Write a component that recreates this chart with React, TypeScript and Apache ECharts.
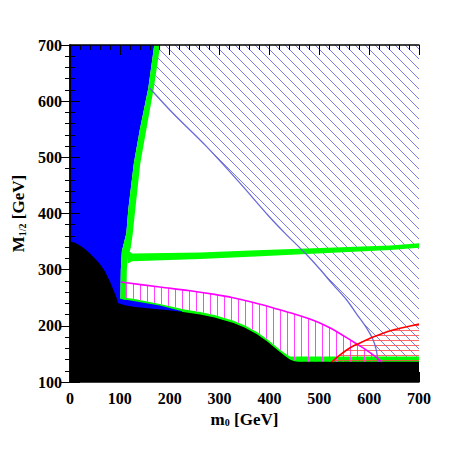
import React, { useEffect, useRef } from 'react';
import * as echarts from 'echarts';

type P = [number, number];

// ---- Region boundaries (m0 [GeV], M1/2 [GeV]) ----
const blackTop: P[] = [
  [0, 350], [10, 348], [20, 343], [30, 337], [40, 329], [50, 320], [60, 310], [70, 297],
  [80, 279], [88, 262], [94, 248], [97, 240], [110, 236.5], [127, 234], [160, 231], [194, 228],
  [230, 224], [261, 220], [290, 215], [328, 205], [350, 197], [375, 185], [395, 172.5],
  [415, 158], [430, 147], [441, 140], [450, 137], [458, 136], [700, 136],
];

const greenLeftEdge: P[] = [
  [169, 700], [157, 623], [140, 549], [128, 489], [117, 408], [113, 365], [104, 333],
  [102, 300], [101, 248],
];
const greenRightEdge: P[] = [
  [113, 246], [114, 300], [116, 320], [122, 340], [126, 365], [131, 408], [141, 489],
  [153, 549], [168, 623], [181, 700],
];
const blueStripTop: P[] = [[127, 244], [180, 236], [225, 226]];

const greenBandLower: P[] = [[116, 311], [125, 315], [261, 319], [361, 323], [642, 335], [700, 339]];
const greenBandUpper: P[] = [[700, 347], [642, 343], [361, 334], [261, 330.5], [125, 329], [116, 334]];

const greenStripTop: P[] = [
  [101, 251], [127, 248], [180, 239], [230, 229], [261, 224.5], [290, 219.5], [328, 209],
  [350, 201], [375, 189], [395, 176.5], [415, 162], [430, 151.5], [441, 145.5], [455, 145.5], [700, 145.5],
];

const magentaUpper: P[] = [
  [102, 278], [180, 269], [241, 262.5], [290, 256], [327, 250], [370, 241], [415, 230],
  [450, 221], [481, 212], [500, 205.5], [522, 196], [542, 186], [562, 175], [582, 164],
  [596, 156], [610, 147], [626, 136],
];

const redUpper: P[] = [
  [525, 136], [540, 147], [555, 157], [570, 165], [588, 172], [608, 180], [628, 187],
  [648, 192.5], [669, 197], [700, 203],
];

const blueLine: P[] = [
  [160, 623], [207, 578], [274, 519], [341, 454], [398, 396], [430, 366], [471, 330],
  [500, 302], [528, 273], [555, 246], [575, 221], [595, 196], [607, 177], [614, 158], [618, 136],
];

// ---- hatch tiles ----
function tile(kind: 'diag' | 'vert' | 'horiz', color: string, size: number) {
  const c = document.createElement('canvas');
  c.width = size;
  c.height = size;
  const ctx = c.getContext('2d')!;
  if (kind === 'diag') {
    ctx.strokeStyle = color;
    ctx.lineWidth = 1;
    for (const k of [-size, 0, size]) {
      ctx.beginPath();
      ctx.moveTo(k - 2, -2);
      ctx.lineTo(k + size + 2, size + 2);
      ctx.stroke();
    }
  } else if (kind === 'vert') {
    ctx.fillStyle = color;
    ctx.fillRect(0, 0, 1, size);
  } else {
    ctx.fillStyle = color;
    ctx.fillRect(0, 0, size, 1);
  }
  return { image: c, repeat: 'repeat', imageWidth: size, imageHeight: size } as any;
}

const FONT = 'Liberation Serif';

export default function App() {
  const ref = useRef<HTMLDivElement>(null);
  useEffect(() => {
    const chart = echarts.init(ref.current!, undefined, { renderer: 'svg' });

    const polySeries = (name: string, pts: P[], style: any) => ({
      type: 'custom',
      name,
      coordinateSystem: 'cartesian2d',
      xAxisIndex: 0,
      yAxisIndex: 0,
      data: [[350, 400]],
      clip: true,
      silent: true,
      renderItem: (_p: any, api: any) => ({
        type: 'polygon',
        shape: { points: pts.map((p) => api.coord(p)) },
        style,
      }),
    });
    const lineSeries = (name: string, pts: P[], stroke: string, lw: number) => ({
      type: 'custom',
      name,
      coordinateSystem: 'cartesian2d',
      xAxisIndex: 0,
      yAxisIndex: 0,
      data: [[350, 400]],
      clip: true,
      silent: true,
      renderItem: (_p: any, api: any) => ({
        type: 'polyline',
        shape: { points: pts.map((p) => api.coord(p)), smooth: 0.3 },
        style: { stroke, lineWidth: lw, fill: null },
      }),
    });

    const blueHatchPoly: P[] = [[181, 700], [700, 700], [700, 136], ...blueLine.slice().reverse()];
    const greenStripPoly: P[] = [...greenStripTop, [700, 120], [97, 120]];
    const bluePoly: P[] = [[0, 700], ...greenLeftEdge, ...blueStripTop, [225, 150], [0, 150]];
    const greenVertPoly: P[] = [...greenLeftEdge, ...greenRightEdge];
    const greenBandPoly: P[] = [...greenBandLower, ...greenBandUpper];
    const blackPoly: P[] = [...blackTop, [700, 100], [0, 100]];
    const magentaLower: P[] = [
      [626, 136],
      [455, 136],
      ...greenStripTop.filter((p) => p[0] <= 441).reverse(),
    ];
    const magentaPoly: P[] = [...magentaUpper, ...magentaLower];
    const redPoly: P[] = [...redUpper, [700, 136]];

    const axisCommon = {
      type: 'value',
      axisLine: { show: true, lineStyle: { color: '#000', width: 1.5 } },
      axisTick: { show: true, inside: true, length: 10, lineStyle: { color: '#000', width: 1 } },
      minorTick: { show: true, splitNumber: 5, length: 5, lineStyle: { color: '#000', width: 1 } },
      splitLine: { show: false },
      z: 10,
    };
    const labelStyle = { color: '#000', fontFamily: FONT, fontWeight: 'bold', fontSize: 16 };
    const nameStyle = {
      color: '#000',
      fontFamily: FONT,
      fontWeight: 'bold',
      fontSize: 17,
      rich: {
        s: { fontFamily: FONT, fontWeight: 'bold', fontSize: 10, verticalAlign: 'bottom', color: '#000' },
      },
    };

    chart.setOption({
      animation: false,
      backgroundColor: '#fff',
      grid: { left: 70, right: 47, top: 45, bottom: 68 },
      xAxis: [
        {
          ...axisCommon,
          min: 0,
          max: 700,
          interval: 100,
          position: 'bottom',
          axisLabel: { ...labelStyle, margin: 8 },
          name: 'm{s|0} [GeV]',
          nameLocation: 'middle',
          nameGap: 26,
          nameTextStyle: nameStyle,
        },
        { ...axisCommon, min: 0, max: 700, interval: 100, position: 'top', axisLabel: { show: false } },
      ],
      yAxis: [
        {
          ...axisCommon,
          min: 100,
          max: 700,
          interval: 100,
          position: 'left',
          axisLabel: { ...labelStyle, margin: 8 },
          name: 'M{s|1/2} [GeV]',
          nameLocation: 'middle',
          nameGap: 42,
          nameTextStyle: nameStyle,
        },
        { ...axisCommon, min: 100, max: 700, interval: 100, position: 'right', axisLabel: { show: false } },
      ],
      series: [
        polySeries('stau hatch', blueHatchPoly, { fill: tile('diag', 'rgba(110,110,225,0.9)', 10) }),
        polySeries('green strip', greenStripPoly, { fill: '#00ff00' }),
        polySeries('charged LSP', bluePoly, { fill: '#0000ff' }),
        polySeries('green vertical', greenVertPoly, { fill: '#00ff00' }),
        polySeries('green band', greenBandPoly, { fill: '#00ff00' }),
        polySeries('excluded', blackPoly, { fill: '#000000' }),
        polySeries('magenta hatch', magentaPoly, { fill: tile('vert', '#ff40ff', 7) }),
        polySeries('red hatch', redPoly, { fill: tile('horiz', 'rgba(255,70,70,0.8)', 5) }),
        lineSeries('blue line', blueLine, '#6a6ad6', 1.3),
        lineSeries('magenta line', magentaUpper, '#ff00ff', 1.6),
        lineSeries('red line', redUpper, '#ff0000', 1.6),
      ],
    } as any);
    return () => chart.dispose();
  }, []);
  return <div ref={ref} style={{ position: 'fixed', left: 0, top: 0, width: 466, height: 450 }} />;
}
